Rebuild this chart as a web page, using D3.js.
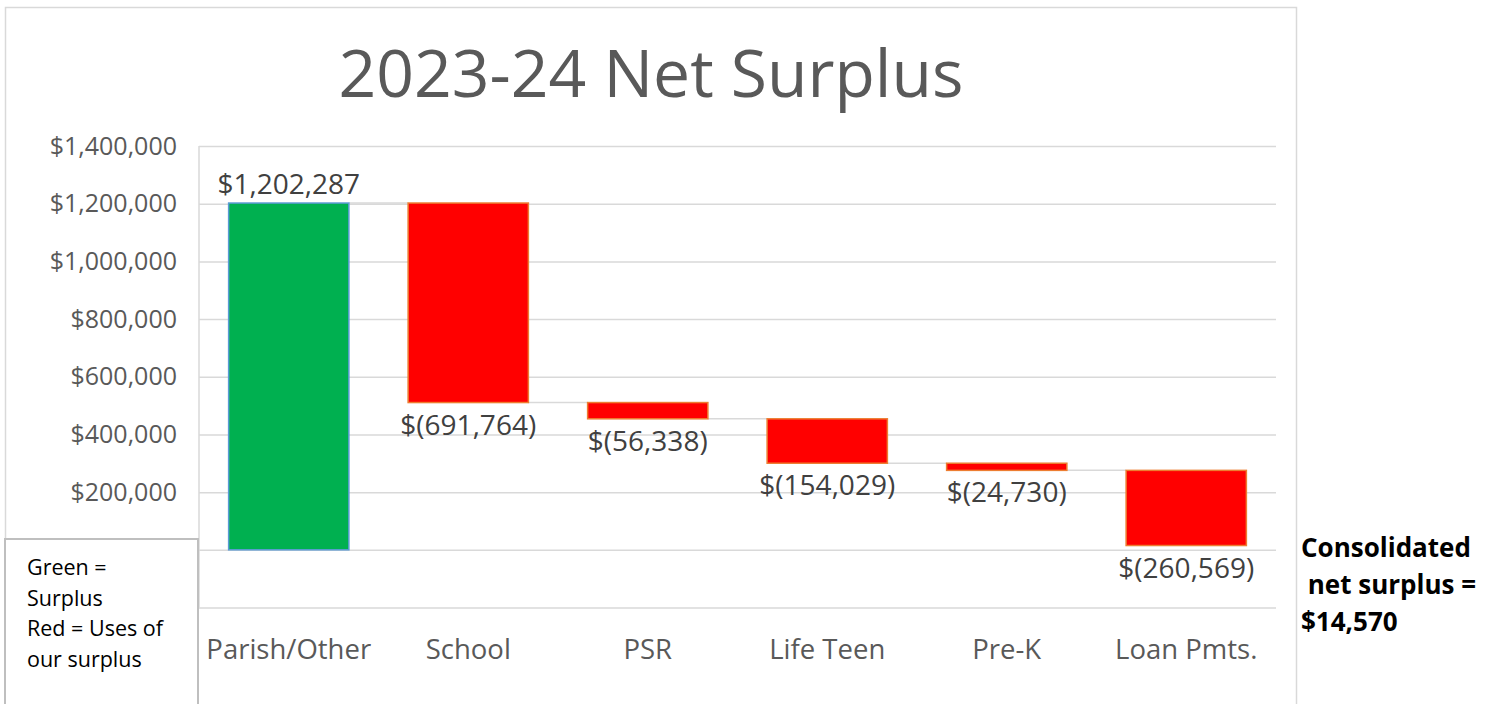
<!DOCTYPE html>
<html lang="en">
  <head>
    <meta charset="utf-8">
    <title>2023-24 Net Surplus</title>
    <style>
      body { margin: 0; background: white; }
      svg { display: block; font-family: "Open Sans", sans-serif; }
      .grid line { stroke: #d9d9d9; stroke-width: 1.5; }
      .grid path { display: none; }
      .yaxis text { fill: #595959; font-size: 25px; font-family: "Open Sans", sans-serif; }
      .yaxis path, .yaxis line { display: none; }
    </style>
    <script src="https://d3js.org/d3.v7.min.js"></script>
  </head>
  <body>
    <script>
    // chart values
    const categories = ["Parish/Other", "School", "PSR", "Life Teen", "Pre-K", "Loan Pmts."];
    const values = [1202287, -691764, -56338, -154029, -24730, -260569];
    const yTicks = [-200000, 0, 200000, 400000, 600000, 800000, 1000000, 1200000, 1400000];
    const yLabelTicks = [200000, 400000, 600000, 800000, 1000000, 1200000, 1400000];
    const legendLines = ["Green =", "Surplus", "Red = Uses of", "our surplus"];
    const noteLines = ["Consolidated", " net surplus =", "$14,570"];

    const W = 1494, H = 704;
    const plot = { left: 199, right: 1276, top: 146, bottom: 607.5 };

    const svg = d3.select("body").append("svg")
      .attr("width", W)
      .attr("height", H);

    // chart area border
    svg.append("rect")
      .attr("x", 5.5).attr("y", 7.5)
      .attr("width", 1291).attr("height", 720)
      .attr("fill", "white")
      .attr("stroke", "#d9d9d9")
      .attr("stroke-width", 1.5);

    svg.append("text")
      .attr("x", 651).attr("y", 97)
      .attr("text-anchor", "middle")
      .style("font-size", "66px")
      .style("fill", "#595959")
      .text("2023-24 Net Surplus");

    const x = d3.scaleBand()
      .domain(categories)
      .range([plot.left, plot.right])
      .paddingInner(0.33)
      .paddingOuter(0.165);

    const y = d3.scaleLinear()
      .domain([-200000, 1400000])
      .range([plot.bottom, plot.top]);

    // gridlines
    svg.append("g")
      .attr("class", "grid")
      .attr("transform", `translate(${plot.left},0)`)
      .call(d3.axisLeft(y).tickValues(yTicks).tickSize(-(plot.right - plot.left)).tickFormat(""));

    // y axis line
    svg.append("line")
      .attr("x1", plot.left).attr("x2", plot.left)
      .attr("y1", plot.top).attr("y2", plot.bottom)
      .attr("stroke", "#d9d9d9").attr("stroke-width", 1.5);

    const money = v => v < 0 ? "$(" + d3.format(",")(-v) + ")" : "$" + d3.format(",")(v);

    // labels below $200,000 sit under the legend box in the reference
    svg.append("g")
      .attr("class", "yaxis")
      .attr("transform", `translate(${plot.left - 14},0)`)
      .call(d3.axisLeft(y).tickValues(yLabelTicks).tickSize(0).tickPadding(8).tickFormat(money));

    // waterfall steps
    let run = 0;
    const steps = categories.map((c, i) => {
      const start = run;
      run += values[i];
      return { cat: c, value: values[i], start: start, end: run };
    });

    // connectors
    svg.append("g")
      .selectAll("line")
      .data(steps.slice(0, -1))
      .join("line")
      .attr("x1", (d) => x(d.cat) + x.bandwidth())
      .attr("x2", (d, i) => x(categories[i + 1]))
      .attr("y1", d => y(d.end))
      .attr("y2", d => y(d.end))
      .attr("stroke", "#d9d9d9")
      .attr("stroke-width", 1.5);

    svg.append("g")
      .selectAll("rect")
      .data(steps)
      .join("rect")
      .attr("x", d => x(d.cat))
      .attr("width", x.bandwidth())
      .attr("y", d => y(Math.max(d.start, d.end)))
      .attr("height", d => Math.abs(y(d.start) - y(d.end)))
      .attr("fill", d => d.value >= 0 ? "#00b050" : "#ff0000")
      .attr("stroke", d => d.value >= 0 ? "#5b9bd5" : "#ed7d31")
      .attr("stroke-width", 1.5);

    // data labels
    svg.append("g")
      .selectAll("text")
      .data(steps)
      .join("text")
      .attr("x", d => x(d.cat) + x.bandwidth() / 2)
      .attr("y", d => d.value >= 0 ? y(d.end) - 9 : y(d.end) + 32)
      .attr("text-anchor", "middle")
      .style("font-size", "28px")
      .style("fill", "#404040")
      .text(d => money(d.value));

    // category labels
    svg.append("g")
      .selectAll("text")
      .data(categories)
      .join("text")
      .attr("x", d => x(d) + x.bandwidth() / 2)
      .attr("y", 659)
      .attr("text-anchor", "middle")
      .style("font-size", "27.5px")
      .style("fill", "#595959")
      .text(d => d);

    // legend box
    svg.append("rect")
      .attr("x", 5).attr("y", 539)
      .attr("width", 193).attr("height", 200)
      .attr("fill", "white")
      .attr("stroke", "#bfbfbf")
      .attr("stroke-width", 2);

    svg.append("g")
      .selectAll("text")
      .data(legendLines)
      .join("text")
      .attr("x", 27)
      .attr("y", (d, i) => 575 + i * 30.5)
      .style("font-size", "21.5px")
      .style("fill", "black")
      .text(d => d);

    svg.append("g")
      .selectAll("text")
      .data(noteLines)
      .join("text")
      .attr("x", 1301)
      .attr("y", (d, i) => 557 + i * 37)
      .attr("xml:space", "preserve")
      .style("white-space", "pre")
      .style("font-size", "26px")
      .style("font-weight", "bold")
      .style("fill", "black")
      .text(d => d);
    </script>
  </body>
</html>
